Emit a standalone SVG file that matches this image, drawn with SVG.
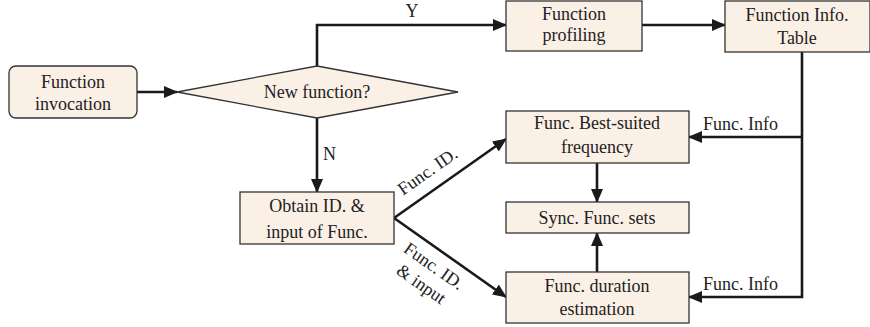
<svg xmlns="http://www.w3.org/2000/svg" width="870" height="327" viewBox="0 0 870 327">
<defs>
<marker id="ah" markerUnits="userSpaceOnUse" markerWidth="14" markerHeight="12" refX="13" refY="6" orient="auto">
<path d="M0,0 L14,6 L0,12 Z" fill="#1a1a1a"/>
</marker>
<style>
.box{fill:#FBF0E6;stroke:#333;stroke-width:1.3}
.t{font-family:"Liberation Serif","Times New Roman",serif;font-size:18px;fill:#222;text-anchor:middle}
.l{font-family:"Liberation Serif","Times New Roman",serif;font-size:18px;fill:#222}
.c{fill:none;stroke:#1a1a1a;stroke-width:2.6}
</style>
</defs>
<rect width="870" height="327" fill="#fff"/>
<g id="connectors">
<path class="c" d="M137,92 L177,92" marker-end="url(#ah)"/>
<path class="c" d="M317,66 L317,25 L506,25" marker-end="url(#ah)"/>
<path class="c" d="M642,25 L725,25" marker-end="url(#ah)"/>
<path class="c" d="M317,118 L317,192" marker-end="url(#ah)"/>
<path class="c" d="M394,218 L506,139" marker-end="url(#ah)"/>
<path class="c" d="M394,218 L506,297" marker-end="url(#ah)"/>
<path class="c" d="M802,52 L802,297 L689,297" marker-end="url(#ah)"/>
<path class="c" d="M802,137 L689,137" marker-end="url(#ah)"/>
<path class="c" d="M597,163 L597,202" marker-end="url(#ah)"/>
<path class="c" d="M597,272 L597,233" marker-end="url(#ah)"/>
<text class="l" x="412" y="17" text-anchor="middle">Y</text>
<text class="l" x="323" y="160">N</text>
<text class="l" x="703" y="130">Func. Info</text>
<text class="l" x="703" y="290">Func. Info</text>
<text class="t" transform="translate(431,176) rotate(-35)">Func. ID.</text>
<g transform="translate(434,266) rotate(35)">
<text class="t" x="0" y="6">Func. ID.</text>
<text class="t" x="0" y="28">&amp; input</text>
</g>
</g>
<g id="invocation">
<rect class="box" x="9" y="66" width="128" height="52" rx="7"/>
<text class="t" x="73" y="88">Function</text>
<text class="t" x="73" y="110">invocation</text>
</g>
<g id="decision">
<polygon class="box" points="177,92 317,66 458,92 317,118"/>
<text class="t" x="317" y="98">New function?</text>
</g>
<g id="profiling">
<rect class="box" x="506" y="1" width="136" height="50"/>
<text class="t" x="574" y="20">Function</text>
<text class="t" x="574" y="41">profiling</text>
</g>
<g id="infotable">
<rect class="box" x="725" y="1" width="145" height="51"/>
<text class="t" x="797" y="21">Function Info.</text>
<text class="t" x="797" y="44">Table</text>
</g>
<g id="obtain">
<rect class="box" x="240" y="192" width="154" height="52"/>
<text class="t" x="317" y="212">Obtain ID. &amp;</text>
<text class="t" x="317" y="238">input of Func.</text>
</g>
<g id="bestfreq">
<rect class="box" x="506" y="111" width="183" height="52"/>
<text class="t" x="597" y="129">Func. Best-suited</text>
<text class="t" x="597" y="153">frequency</text>
</g>
<g id="sync">
<rect class="box" x="506" y="202" width="183" height="31"/>
<text class="t" x="597" y="224">Sync. Func. sets</text>
</g>
<g id="duration">
<rect class="box" x="506" y="272" width="183" height="51"/>
<text class="t" x="597" y="292">Func. duration</text>
<text class="t" x="597" y="315">estimation</text>
</g>
</svg>
